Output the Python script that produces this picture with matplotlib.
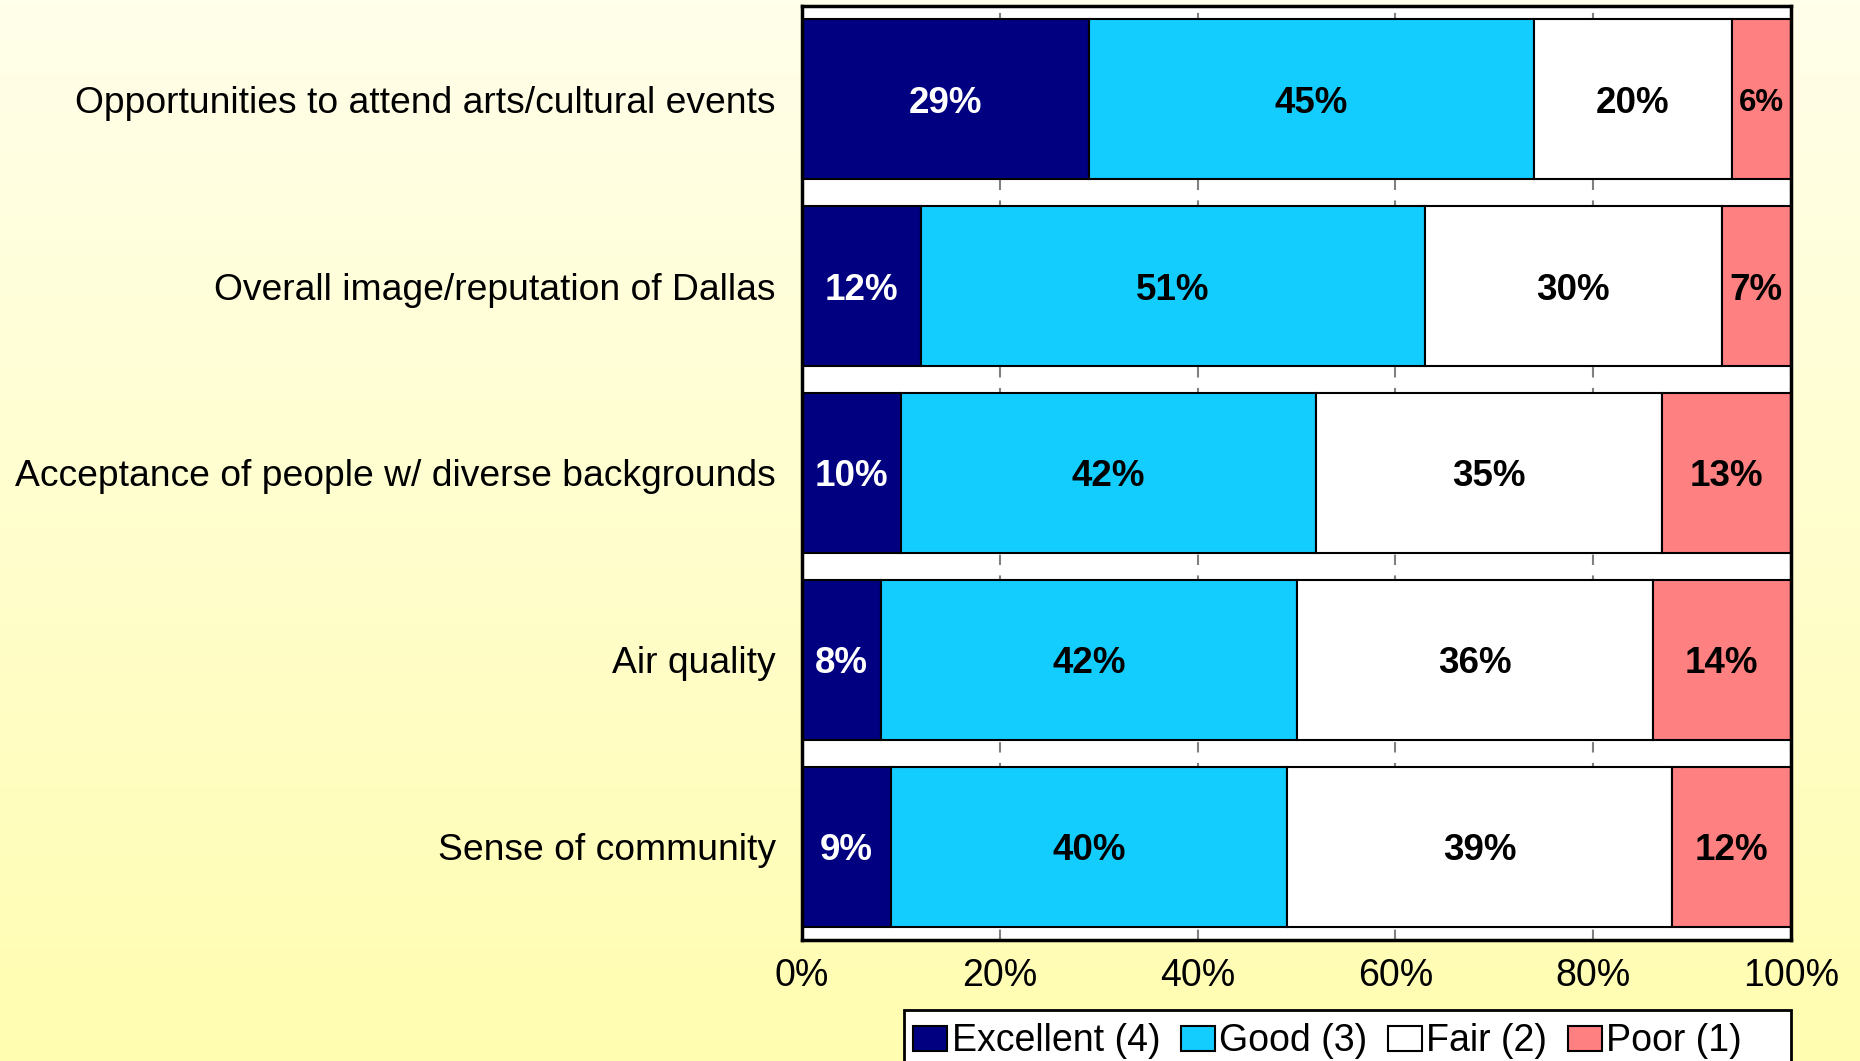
#importing the packages
import numpy as np
import matplotlib
matplotlib.use("Agg")
import matplotlib.pyplot as plt
from matplotlib.patches import Rectangle

#survey items and ratings (percent of respondents)
items = ["Opportunities to attend arts/cultural events",
         "Overall image/reputation of Dallas",
         "Acceptance of people w/ diverse backgrounds",
         "Air quality",
         "Sense of community"]
excellent = [29, 12, 10, 8, 9]
good = [45, 51, 42, 42, 40]
fair = [20, 30, 35, 36, 39]
poor = [6, 7, 13, 14, 12]

ratings = ["Excellent (4)", "Good (3)", "Fair (2)", "Poor (1)"]
colors = ["#000080", "#13CDFF", "#FFFFFF", "#FF8080"]
text_colors = ["white", "black", "black", "black"]
ticks = [0, 20, 40, 60, 80, 100]

plt.rcParams["font.family"] = ["Liberation Sans", "DejaVu Sans"]

fig = plt.figure(figsize=(18.6, 10.61), dpi=100)

#yellow gradient behind everything
bg = fig.add_axes([0, 0, 1, 1], zorder=-10)
grad = np.linspace(0, 1, 256)[:, None]
top = np.array([255, 255, 234]) / 255
bottom = np.array([255, 253, 176]) / 255
img = top + (bottom - top) * grad[:, :, None]
bg.imshow(np.repeat(img, 2, axis=1), aspect="auto", extent=[0, 1, 0, 1])
bg.axis("off")

ax = fig.add_axes([802 / 1860, 1 - 940 / 1061, 989 / 1860, 934 / 1061])
ax.set_facecolor("white")

y = np.arange(len(items))
series = [excellent, good, fair, poor]
left = np.zeros(len(items))
for vals, col, tcol, name in zip(series, colors, text_colors, ratings):
    vals = np.array(vals)
    ax.barh(y, vals, left=left, height=0.857, color=col, edgecolor="black",
            linewidth=1.5, label=name, zorder=2)
    for yi, l, v in zip(y, left, vals):
        ax.text(l + v / 2, yi, f"{v}%", ha="center", va="center_baseline",
                color=tcol, fontsize=22.5 if v < 7 else 26.5, fontweight="bold", zorder=3)
    left = left + vals

ax.set_xlim(0, 100)
ax.set_ylim(len(items) - 0.5, -0.5)
ax.set_xticks(ticks)
ax.set_xticklabels([f"{t}%" for t in ticks], fontsize=27)
ax.set_yticks(y)
ax.set_yticklabels(items, fontsize=26.8)
ax.tick_params(axis="x", length=0, pad=13)
ax.tick_params(axis="y", length=0, pad=19)
ax.xaxis.grid(True, linestyle=(0, (5, 5)), color="gray", linewidth=1.5, zorder=0)
ax.set_axisbelow(True)
for s in ax.spines.values():
    s.set_linewidth(2.5)
    s.set_color("black")

#legend box runs under the right part of the chart and past the bottom edge
fig.patches.append(Rectangle((904 / 1860, -0.05), 887 / 1860, 0.05 + 51 / 1061,
                             transform=fig.transFigure, facecolor="white",
                             edgecolor="black", linewidth=2, zorder=1))
leg = fig.legend(loc="upper left", bbox_to_anchor=(904 / 1860, 1 - 1014 / 1061),
                 ncol=4, fontsize=27, frameon=False,
                 handlelength=0.9, handleheight=0.65, handletextpad=0.12,
                 columnspacing=0.55, borderpad=0.25, borderaxespad=0)
leg.set_zorder(2)

fig.savefig("out.png", dpi=100)
